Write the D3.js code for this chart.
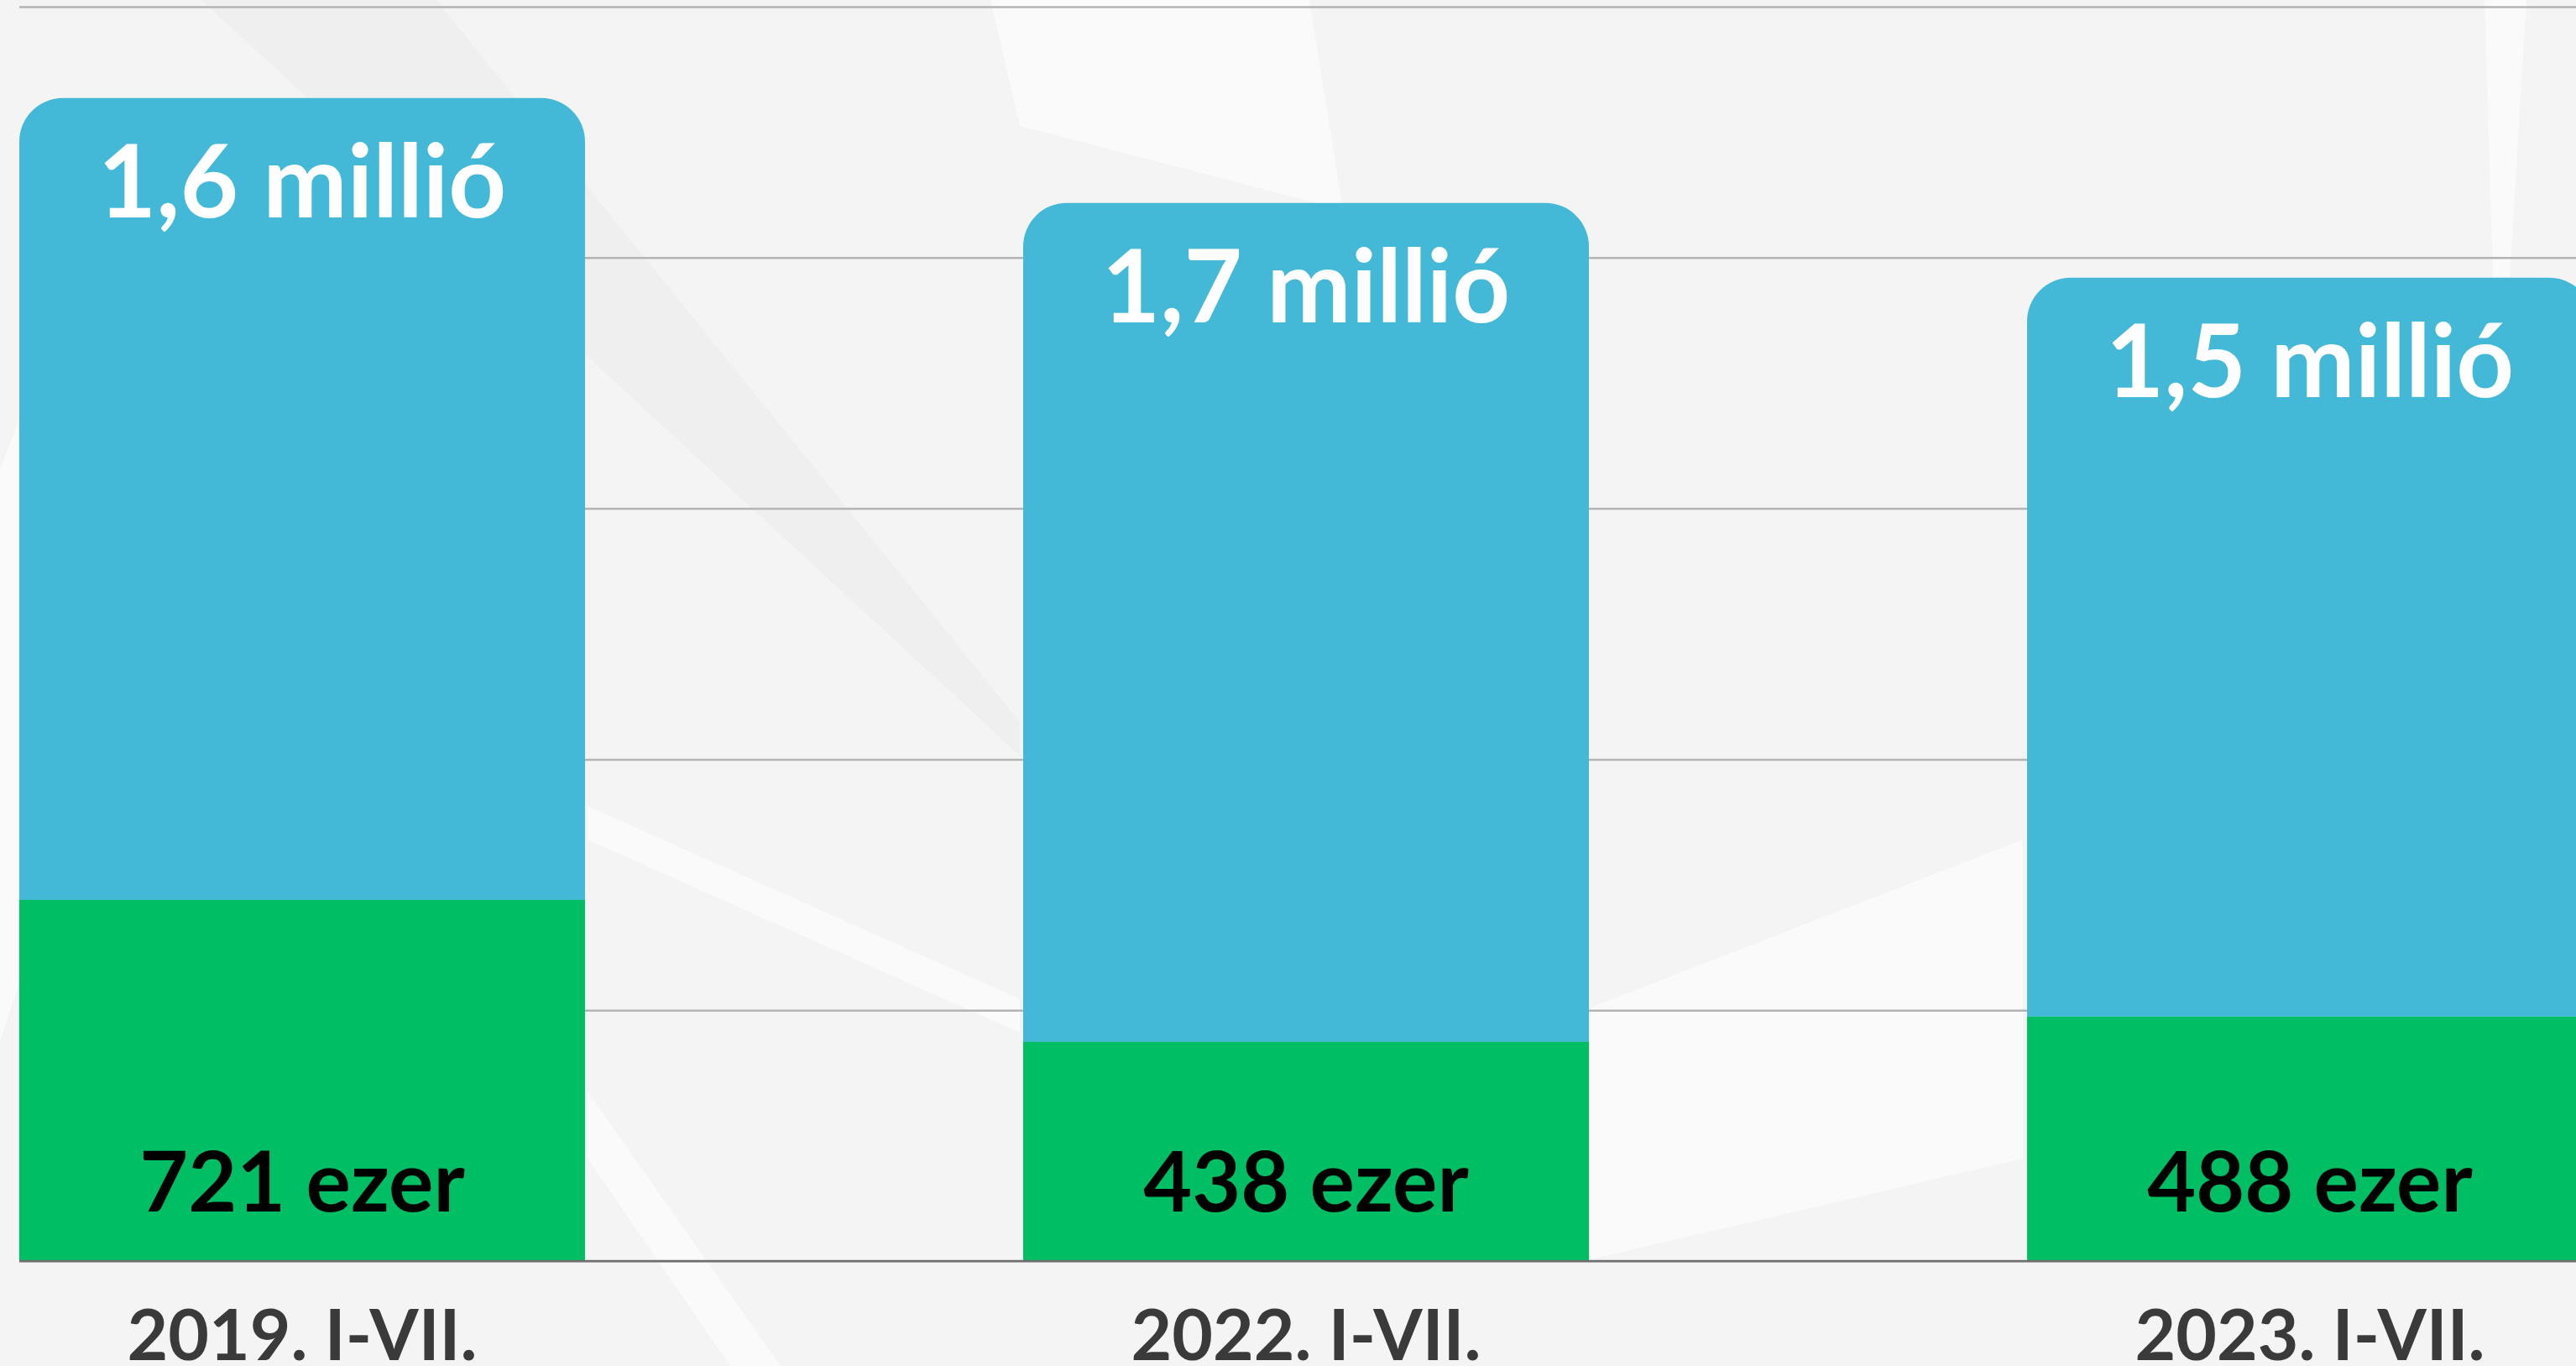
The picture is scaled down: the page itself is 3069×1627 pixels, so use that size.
<!doctype html>
<html lang="hu">
<head>
<meta charset="utf-8">
<title>Stacked bars</title>
<script src="https://d3js.org/d3.v7.min.js"></script>
<style>
  html, body { margin: 0; padding: 0; background: #f5f5f5; overflow: hidden; }
  text { font-family: Lato, "Open Sans", sans-serif; font-weight: 700; }
</style>
</head>
<body>
<div id="chart"></div>
<script>
// data (thousands)
const categories = ['2019. I-VII.', '2022. I-VII.', '2023. I-VII.']
const greenValues = [721, 438, 488]
const blueValues = [1597, 1671, 1472]
const greenLabels = ['721 ezer', '438 ezer', '488 ezer']
const blueLabels = ['1,6 millió', '1,7 millió', '1,5 millió']
const yTicks = [0, 500, 1000, 1500, 2000, 2500]

const width = 3069, height = 1627
const blue = '#43b8d7', green = '#00be64'

const svg = d3.select('#chart').append('svg')
    .attr('width', width).attr('height', height)

// soft background texture (decoration only)
const bg = svg.append('g')
bg.append('rect').attr('width', width).attr('height', height).attr('fill', '#f4f4f4')
const shards = [
    [[240, 0], [520, 0], [1215, 860], [1215, 900]],
    [[700, 960], [1215, 1190], [1215, 1230], [700, 1000]],
    [[700, 1300], [930, 1627], [870, 1627], [700, 1380]],
    [[0, 560], [60, 400], [40, 1120], [0, 1240]],
    [[1180, 0], [1560, 0], [1600, 250], [1215, 150]],
    [[2960, 0], [3010, 0], [2990, 330], [2970, 330]],
    [[1895, 1200], [2410, 1000], [2410, 1380], [1895, 1500]]
]
bg.selectAll('polygon').data(shards).join('polygon')
    .attr('points', d => d.map(p => p.join(',')).join(' '))
    .attr('fill', (d, i) => i === 0 ? '#e6e6e6' : '#ffffff')
    .attr('opacity', (d, i) => i === 0 ? 0.35 : 0.55)

const x = d3.scaleBand()
    .domain(categories)
    .range([23, 3089])
    .paddingInner(0.4365)
    .paddingOuter(0)

const y = d3.scaleLinear()
    .domain([0, 2500])
    .range([1502, 8])

// gridlines
const grid = svg.append('g')
    .attr('transform', 'translate(23,0)')
    .call(d3.axisRight(y).tickValues(yTicks).tickSize(width).tickFormat(''))
grid.select('.domain').remove()
grid.selectAll('.tick line').attr('stroke', '#b4b4b4').attr('stroke-width', 2.5)

const rows = categories.map((c, i) => ({ cat: c, green: greenValues[i], blue: blueValues[i] }))
const series = d3.stack().keys(['green', 'blue'])(rows)

const topRounded = (x0, y0, w, h, r) => {
    const p = d3.path()
    p.moveTo(x0, y0 + h)
    p.lineTo(x0, y0 + r)
    p.arcTo(x0, y0, x0 + r, y0, r)
    p.lineTo(x0 + w - r, y0)
    p.arcTo(x0 + w, y0, x0 + w, y0 + r, r)
    p.lineTo(x0 + w, y0 + h)
    p.closePath()
    return p.toString()
}

// green segment
svg.append('g').selectAll('rect')
    .data(series[0])
    .join('rect')
    .attr('x', d => x(d.data.cat))
    .attr('y', d => y(d[1]))
    .attr('width', x.bandwidth())
    .attr('height', d => y(d[0]) - y(d[1]))
    .attr('fill', green)

// blue segment with rounded top
svg.append('g').selectAll('path')
    .data(series[1])
    .join('path')
    .attr('d', d => topRounded(x(d.data.cat), y(d[1]), x.bandwidth(), y(d[0]) - y(d[1]) + 0.5, 52))
    .attr('fill', blue)

// baseline
svg.append('line')
    .attr('x1', 23).attr('x2', width)
    .attr('y1', y(0)).attr('y2', y(0))
    .attr('stroke', '#6e6e6e').attr('stroke-width', 2.5)

// value labels
svg.append('g').selectAll('text')
    .data(series[1])
    .join('text')
    .attr('x', d => x(d.data.cat) + x.bandwidth() / 2)
    .attr('y', d => y(d[1]) + 142)
    .attr('text-anchor', 'middle')
    .attr('fill', '#ffffff')
    .attr('font-size', 120)
    .text((d, i) => blueLabels[i])

svg.append('g').selectAll('text')
    .data(series[0])
    .join('text')
    .attr('x', d => x(d.data.cat) + x.bandwidth() / 2)
    .attr('y', y(0) - 59)
    .attr('text-anchor', 'middle')
    .attr('fill', '#000000')
    .attr('font-size', 100)
    .text((d, i) => greenLabels[i])

// category axis
const xAxis = svg.append('g')
    .attr('transform', `translate(0,${y(0)})`)
    .call(d3.axisBottom(x).tickSize(0).tickPadding(0))
xAxis.select('.domain').remove()
xAxis.selectAll('text')
    .attr('dy', null)
    .attr('y', 118)
    .attr('fill', '#3a3a3a')
    .attr('font-size', 84)
    .style('font-family', 'Lato, sans-serif')
    .style('font-weight', 700)
</script>
</body>
</html>
